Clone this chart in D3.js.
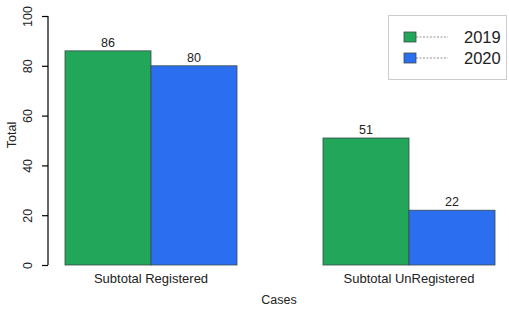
<!DOCTYPE html>
<html>
<head>
<meta charset="utf-8">
<script src="https://cdn.jsdelivr.net/npm/d3@7"></script>
<style>
  body { margin: 0; background: #fff; }
  text { font-family: "Liberation Sans", Arial, sans-serif; fill: #222; }
</style>
</head>
<body>
<div id="chart"></div>
<script>
var categories = ["Subtotal Registered", "Subtotal UnRegistered"],
    years = ["2019", "2020"],
    values2019 = [86, 51],
    values2020 = [80, 22],
    yTicks = [0, 20, 40, 60, 80, 100];

var colors = {"2019": "#22a65a", "2020": "#2b6ef0"};

var W = 509, H = 311;

var svg = d3.select("#chart").append("svg")
    .attr("width", W)
    .attr("height", H);

// scales
var y = d3.scaleLinear().domain([0, 100]).range([265, 16]);
var x0 = d3.scaleBand().domain(categories).range([65, 495]).paddingInner(1 / 3);
var x1 = d3.scaleBand().domain(years).range([0, x0.bandwidth()]);

var data = categories.map(function (c, i) {
    return {cat: c, vals: [
        {year: "2019", v: values2019[i]},
        {year: "2020", v: values2020[i]}
    ]};
});

// y axis, R style
var yAxis = svg.append("g")
    .attr("transform", "translate(48,0)")
    .call(d3.axisLeft(y).tickValues(yTicks).tickSize(6).tickPadding(4));
yAxis.select(".domain").attr("stroke", "#000").attr("stroke-width", 1.2)
    .attr("d", "M0," + y(100) + "V" + y(0));
yAxis.selectAll(".tick line").attr("stroke", "#000").attr("stroke-width", 1.2);
yAxis.selectAll(".tick text")
    .attr("transform", "rotate(-90)")
    .attr("x", 0).attr("y", -16)
    .attr("dy", "0")
    .style("text-anchor", "middle")
    .style("font-size", "12.5px")
    .style("font-family", "'Liberation Sans', Arial, sans-serif")
    .attr("fill", "#222");

// bars
var groups = svg.selectAll(".grp")
    .data(data)
    .enter().append("g")
    .attr("class", "grp")
    .attr("transform", function (d) { return "translate(" + x0(d.cat) + ",0)"; });

groups.selectAll("rect")
    .data(function (d) { return d.vals; })
    .enter().append("rect")
    .attr("x", function (d) { return x1(d.year); })
    .attr("y", function (d) { return y(d.v); })
    .attr("width", x1.bandwidth())
    .attr("height", function (d) { return y(0) - y(d.v); })
    .attr("fill", function (d) { return colors[d.year]; })
    .attr("stroke", "#3a4a4a")
    .attr("stroke-width", 0.8);

groups.selectAll(".val")
    .data(function (d) { return d.vals; })
    .enter().append("text")
    .attr("class", "val")
    .attr("x", function (d) { return x1(d.year) + x1.bandwidth() / 2; })
    .attr("y", function (d) { return y(d.v) - 4; })
    .attr("text-anchor", "middle")
    .style("font-size", "12.5px")
    .text(function (d) { return d.v; });

// category labels
svg.selectAll(".cat")
    .data(categories)
    .enter().append("text")
    .attr("class", "cat")
    .attr("x", function (d) { return x0(d) + x0.bandwidth() / 2; })
    .attr("y", 283)
    .attr("text-anchor", "middle")
    .style("font-size", "13px")
    .text(function (d) { return d; });

// axis titles
svg.append("text")
    .attr("x", 279).attr("y", 304)
    .attr("text-anchor", "middle")
    .style("font-size", "12.5px")
    .text("Cases");

svg.append("text")
    .attr("transform", "translate(16,135) rotate(-90)")
    .attr("text-anchor", "middle")
    .style("font-size", "12.5px")
    .text("Total");

// legend
var legend = svg.append("g");
legend.append("rect")
    .attr("x", 388.5).attr("y", 15.5)
    .attr("width", 118).attr("height", 64)
    .attr("fill", "#fff")
    .attr("stroke", "#ccc");

var li = legend.selectAll(".li")
    .data(years)
    .enter().append("g")
    .attr("transform", function (d, i) { return "translate(0," + (37 + i * 21) + ")"; });

li.append("line")
    .attr("x1", 416).attr("x2", 448)
    .attr("stroke", "#777")
    .attr("stroke-width", 0.8)
    .attr("stroke-dasharray", "2,1.5");
li.append("rect")
    .attr("x", 404).attr("y", -5)
    .attr("width", 12).attr("height", 10)
    .attr("fill", function (d) { return colors[d]; })
    .attr("stroke", "#3a4a4a")
    .attr("stroke-width", 0.8);
li.append("text")
    .attr("x", 464).attr("y", 6)
    .style("font-size", "16.5px")
    .text(function (d) { return d; });
</script>
</body>
</html>
